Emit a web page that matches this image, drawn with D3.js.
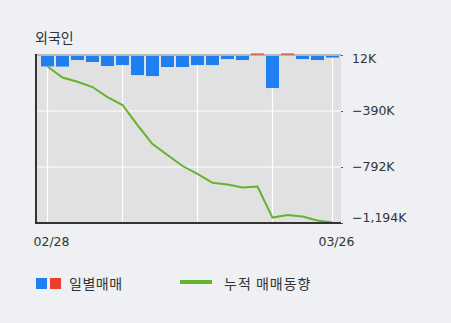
<!DOCTYPE html>
<html>
<head>
<meta charset="utf-8">
<script src="https://cdn.jsdelivr.net/npm/d3@7"></script>
<style>
  body { margin: 0; background: #eef0f4; }
  svg { display: block; }
  text { font-family: "Noto Sans CJK KR", "Noto Sans", sans-serif; }
  .num { font-family: "DejaVu Sans", sans-serif; }
</style>
</head>
<body>
<svg id="chart"></svg>
<script>
// daily foreign net buying (thousand shares) and the cumulative trend
const days = ["02/28","03/02","03/03","03/04","03/05","03/06","03/09","03/10","03/11","03/12",
              "03/13","03/16","03/17","03/18","03/19","03/20","03/23","03/24","03/25","03/26"];
const daily = [-75, -76, -29, -43, -72, -65, -137, -144, -79, -79,
               -65, -65, -22, -29, 12, -230, 12, -22, -29, -11];
const cumulative = [-71, -150, -180, -218, -290, -347, -491, -627, -706, -785,
                    -842, -905, -918, -939, -932, -1155, -1137, -1147, -1176, -1190];
const yTicks = [12, -390, -792, -1194];
const xLabels = ["02/28", "03/26"];
const gridDays = ["02/28", "03/06", "03/13", "03/20", "03/26"];

const width = 451, height = 323;
const plot = {left: 36, right: 341, top: 55, bottom: 223};

const svg = d3.select("#chart").attr("width", width).attr("height", height);

let x = d3.scaleBand()
    .domain(days)
    .range([40, 340])
    .paddingInner(0.133)
    .paddingOuter(0.067);
const xc = d => x(d) + x.bandwidth() / 2;

let y = d3.scaleLinear()
    .domain([-1194, 12])
    .range([plot.bottom, plot.top]);

// bars share the line's units per pixel, but hang from the top edge
let yBar = d3.scaleLinear()
    .domain([0, -1206])
    .range([plot.top + 1, plot.bottom + 1]);

svg.append("text")
    .attr("x", 35).attr("y", 43)
    .attr("font-size", 14)
    .attr("fill", "#333")
    .text("외국인");

// plot background
svg.append("rect")
    .attr("x", plot.left).attr("y", plot.top)
    .attr("width", plot.right - plot.left).attr("height", plot.bottom - plot.top)
    .attr("fill", "#e1e1e1");

// grid
svg.append("g")
    .selectAll("line")
    .data(gridDays)
    .enter()
    .append("line")
    .attr("x1", xc).attr("x2", xc)
    .attr("y1", plot.top).attr("y2", plot.bottom)
    .attr("stroke", "#fff").attr("stroke-width", 1.2);

svg.append("g")
    .selectAll("line")
    .data(yTicks.slice(1, 3))
    .enter()
    .append("line")
    .attr("x1", plot.left).attr("x2", plot.right)
    .attr("y1", d => y(d)).attr("y2", d => y(d))
    .attr("stroke", "#fff").attr("stroke-width", 1.2);

svg.append("line")
    .attr("x1", plot.left).attr("x2", plot.right)
    .attr("y1", y(12)).attr("y2", y(12))
    .attr("stroke", "#a8a8a8").attr("stroke-width", 1.5);

// bars
svg.append("g")
    .selectAll("rect")
    .data(daily)
    .enter()
    .append("rect")
    .attr("x", (d, i) => x(days[i]))
    .attr("y", d => d < 0 ? yBar(0) : yBar(d) - 1)
    .attr("width", x.bandwidth())
    .attr("height", d => Math.abs(yBar(d) - yBar(0)))
    .attr("fill", d => d < 0 ? "#1f7ff0" : "#d9695a");

// cumulative line
let line = d3.line()
    .x((d, i) => xc(days[i]))
    .y(d => y(d));

svg.append("path")
    .datum(cumulative)
    .attr("d", line)
    .attr("fill", "none")
    .attr("stroke", "#66b22e")
    .attr("stroke-width", 2);

// axes frame
svg.append("line")
    .attr("x1", plot.left).attr("x2", plot.left)
    .attr("y1", plot.top - 1).attr("y2", plot.bottom + 1)
    .attr("stroke", "#333").attr("stroke-width", 2);
svg.append("line")
    .attr("x1", plot.left).attr("x2", plot.right)
    .attr("y1", plot.bottom).attr("y2", plot.bottom)
    .attr("stroke", "#333").attr("stroke-width", 2);

// right axis labels
let yAxis = svg.append("g")
    .attr("transform", "translate(" + plot.right + ",0)")
    .call(d3.axisRight(y)
        .tickValues(yTicks)
        .tickSize(2)
        .tickPadding(9)
        .tickFormat(d => d3.format(",")(d) + "K"));
yAxis.select(".domain").remove();
yAxis.selectAll(".tick line").attr("stroke", "#555");
yAxis.selectAll("text")
    .attr("class", "num")
    .attr("font-size", 12.5)
    .attr("fill", "#333")
    .attr("dy", (d, i) => i === 0 ? "0.6em" : i === yTicks.length - 1 ? "-0.1em" : "0.25em");

// bottom labels
svg.append("g")
    .selectAll("text")
    .data(xLabels)
    .enter()
    .append("text")
    .attr("class", "num")
    .attr("x", d => xc(d) + 4)
    .attr("y", 246)
    .attr("text-anchor", "middle")
    .attr("font-size", 12.5)
    .attr("fill", "#333")
    .text(d => d);

// legend
svg.append("rect").attr("x", 36).attr("y", 278).attr("width", 11).attr("height", 11).attr("fill", "#1f7ff0");
svg.append("rect").attr("x", 50).attr("y", 278).attr("width", 11).attr("height", 11).attr("fill", "#e8402f");
svg.append("text").attr("x", 69).attr("y", 289).attr("font-size", 14).attr("letter-spacing", 0.5)
    .attr("fill", "#333").text("일별매매");
svg.append("line")
    .attr("x1", 180).attr("x2", 212).attr("y1", 282).attr("y2", 282)
    .attr("stroke", "#66b22e").attr("stroke-width", 4);
svg.append("text").attr("x", 224).attr("y", 289).attr("font-size", 14).attr("letter-spacing", 1)
    .attr("fill", "#333").text("누적 매매동향");
</script>
</body>
</html>
